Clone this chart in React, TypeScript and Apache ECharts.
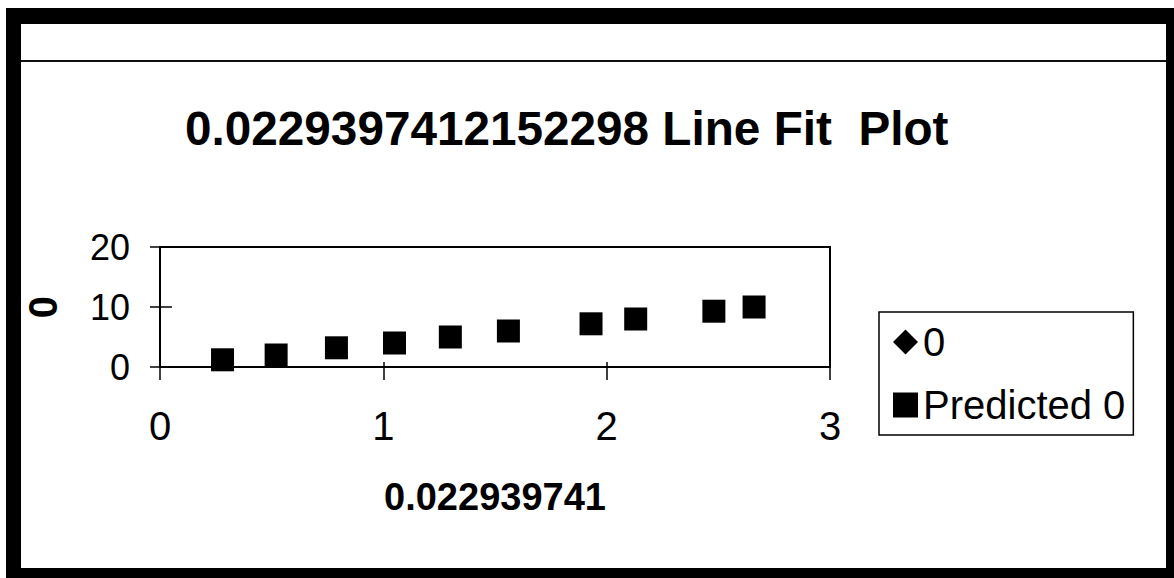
import React, { useEffect, useRef } from "react";
import * as echarts from "echarts";

const chartTitle = "0.0229397412152298 Line Fit  Plot";
const xAxisTitle = "0.022939741";
const yAxisTitle = "0";
const seriesNames = ["0", "Predicted 0"];
// Observed "0" series shows no visible marks
const observedX: number[] = [];
const observedY: number[] = [];
const predictedX = [0.28, 0.52, 0.79, 1.05, 1.3, 1.56, 1.93, 2.13, 2.48, 2.66];
const predictedY = [1.2, 2.0, 3.2, 4.0, 5.0, 6.0, 7.2, 8.0, 9.3, 10.0];
const xTicks = [0, 1, 2, 3];
const yTicks = [0, 10, 20];

const FONT = "'Liberation Sans', Arial, sans-serif";

export default function App() {
  const ref = useRef<HTMLDivElement>(null);
  useEffect(() => {
    if (!ref.current) return;
    const chart = echarts.init(ref.current, null, { renderer: "svg" });
    const pred = predictedX.map((x, i) => [x, predictedY[i]]);
    const obs = observedX.map((x, i) => [x, observedY[i]]);
    const xMin = xTicks[0];
    const xMax = xTicks[xTicks.length - 1];
    const xInt = xTicks[1] - xTicks[0];
    const yMin = yTicks[0];
    const yMax = yTicks[yTicks.length - 1];
    const yInt = yTicks[1] - yTicks[0];
    const baseX = {
      type: "value",
      min: xMin,
      max: xMax,
      interval: xInt,
      splitLine: { show: false },
      axisLine: { show: true, onZero: false, lineStyle: { color: "#000", width: 2 } },
    };
    const baseY = {
      type: "value",
      min: yMin,
      max: yMax,
      interval: yInt,
      splitLine: { show: false },
      axisLine: { show: true, onZero: false, lineStyle: { color: "#000", width: 2 } },
    };
    chart.setOption({
      animation: false,
      backgroundColor: "#fff",
      title: {
        text: chartTitle,
        left: 185,
        top: 105,
        padding: 0,
        textStyle: { fontFamily: FONT, fontWeight: "bold", fontSize: 47.7, color: "#000", lineHeight: 47 },
      },
      grid: {
        left: 160,
        right: 344,
        top: 247,
        bottom: 211,
        show: true,
        borderColor: "#000",
        borderWidth: 2,
        backgroundColor: "transparent",
      },
      legend: {
        orient: "vertical",
        left: 879,
        top: 312,
        padding: [10, 8, 10, 14],
        itemGap: 23,
        itemWidth: 25,
        itemHeight: 25,
        itemTextGap: 15,
        borderColor: "#000",
        borderWidth: 1.5,
        itemStyle: { opacity: 1 },
        textStyle: { fontFamily: FONT, fontSize: 40, color: "#000", lineHeight: 40 },
        data: [
          { name: seriesNames[0], icon: "diamond" },
          { name: seriesNames[1], icon: "rect" },
        ],
      },
      xAxis: [
        {
          ...baseX,
          position: "bottom",
          name: xAxisTitle,
          nameLocation: "middle",
          nameGap: 111,
          nameTextStyle: { fontFamily: FONT, fontWeight: "bold", fontSize: 38, color: "#000" },
          axisTick: { show: true, inside: false, length: 13, lineStyle: { color: "#000", width: 1.5 } },
          axisLabel: { margin: 39, fontFamily: FONT, fontSize: 40, color: "#000" },
        },
        {
          ...baseX,
          position: "bottom",
          axisTick: { show: true, inside: true, length: 5, lineStyle: { color: "#000", width: 1.5 } },
          axisLabel: { show: false },
        },
      ],
      yAxis: [
        {
          ...baseY,
          position: "left",
          name: yAxisTitle,
          nameLocation: "middle",
          nameRotate: 90,
          nameGap: 97,
          nameTextStyle: { fontFamily: FONT, fontWeight: "bold", fontSize: 40, color: "#000" },
          axisTick: { show: true, inside: false, length: 10, lineStyle: { color: "#000", width: 1.5 } },
          axisLabel: { margin: 30, fontFamily: FONT, fontSize: 36, color: "#000" },
        },
        {
          ...baseY,
          position: "left",
          axisTick: { show: true, inside: true, length: 12, lineStyle: { color: "#000", width: 1.5 } },
          axisLabel: { show: false },
        },
      ],
      series: [
        {
          name: seriesNames[0],
          type: "scatter",
          symbol: "diamond",
          symbolSize: 23,
          itemStyle: { color: "#000", opacity: 1 },
          data: obs,
        },
        {
          name: seriesNames[1],
          type: "scatter",
          symbol: "rect",
          symbolSize: 23,
          itemStyle: { color: "#000", opacity: 1 },
          data: pred,
        },
      ],
      graphic: [
        { type: "rect", shape: { x: 6, y: 8, width: 1168, height: 16 }, style: { fill: "#000" } },
        { type: "rect", shape: { x: 6, y: 8, width: 15, height: 570 }, style: { fill: "#000" } },
        { type: "rect", shape: { x: 1166, y: 8, width: 8, height: 570 }, style: { fill: "#000" } },
        { type: "rect", shape: { x: 6, y: 568, width: 1168, height: 10 }, style: { fill: "#000" } },
        { type: "rect", shape: { x: 21, y: 60, width: 1145, height: 2 }, style: { fill: "#111" } },
      ],
    });
    return () => chart.dispose();
  }, []);
  return (
    <div
      ref={ref}
      style={{ position: "absolute", left: 0, top: 0, width: 1174, height: 578 }}
    />
  );
}
